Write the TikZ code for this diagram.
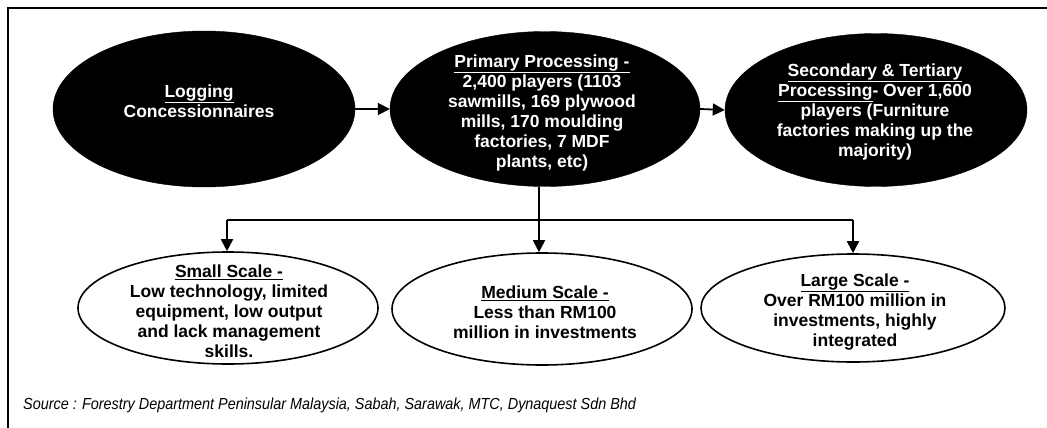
\documentclass[tikz,border=0pt]{standalone}
\usepackage{fontspec}
\setmainfont{Liberation Sans}
\usetikzlibrary{shapes.geometric,arrows.meta}
\begin{document}
\begin{tikzpicture}[x=1pt,y=-1pt,
  darkoval/.style={ellipse, fill=black, draw=black, inner sep=0pt},
  lightoval/.style={ellipse, fill=white, draw=black, line width=1.6pt, inner sep=0pt},
  ovaltext/.style={align=center, inner sep=0pt, font=\bfseries\fontsize{17.5}{20}\selectfont},
  whitetext/.style={ovaltext, text=white},
  link/.style={line width=1.8pt},
  arr/.style={link, -{Triangle[length=12pt,width=12pt]}}]
  \useasboundingbox (0,0) rectangle (1047,428);

  % frame (top and left rules)
  \draw[line width=1.8pt] (1047,8) -- (8,8) -- (8,428);

  % upper chain of processing stages
  \node[darkoval, minimum width=302pt, minimum height=156pt] (log) at (204,109) {};
  \node[darkoval, minimum width=310pt, minimum height=155pt] (prim) at (545,109) {};
  \node[darkoval, minimum width=302pt, minimum height=153pt] (sec) at (876,110) {};

  \node[whitetext] (logT) at (199,101) {\underline{Logging}\\Concessionnaires};
  \node[whitetext] (primT) at (542,113) {\underline{Primary Processing -}\\2,400 players (1103\\sawmills, 169 plywood\\mills, 170 moulding\\factories, 7 MDF\\plants, etc)};
  \node[whitetext] (secT) at (875,112) {\underline{Secondary \& Tertiary}\\\underline{Processing}- Over 1,600\\players (Furniture\\factories making up the\\majority)};

  \draw[arr] (log.east) -- (prim.west);
  \draw[arr] (prim.east) -- (sec.west);

  % scale categories
  \node[lightoval, minimum width=300pt, minimum height=112pt] (small) at (228,308) {};
  \node[lightoval, minimum width=300pt, minimum height=112pt] (mid) at (542,309) {};
  \node[lightoval, minimum width=304pt, minimum height=108pt] (large) at (853,308) {};

  \node[ovaltext] (smallT) at (229,311) {\underline{Small Scale -}\\Low technology, limited\\equipment, low output\\and lack management\\skills.};
  \node[ovaltext] (midT) at (545,312) {\underline{Medium Scale -}\\Less than RM100\\million in investments};
  \node[ovaltext] (largeT) at (855,312) {\underline{Large Scale -}\\Over RM100 million in\\investments, highly\\integrated};

  % distribution bar
  \coordinate (hub) at (539,220);
  \coordinate (lft) at (227,220);
  \coordinate (rgt) at (853,220);
  \draw[link] (prim.south -| hub) -- (hub);
  \draw[link] (lft) -- (rgt);
  \draw[arr] (lft) -- (lft |- small.north);
  \draw[arr] (hub) -- (hub |- mid.north);
  \draw[arr] (rgt) -- (rgt |- large.north);

  % source line
  \node[anchor=west, inner sep=0pt, font=\itshape\fontsize{16}{18}\selectfont, xscale=0.9, transform shape] (src) at (23,405) {Source : Forestry Department Peninsular Malaysia, Sabah, Sarawak, MTC, Dynaquest Sdn Bhd};
\end{tikzpicture}
\end{document}
